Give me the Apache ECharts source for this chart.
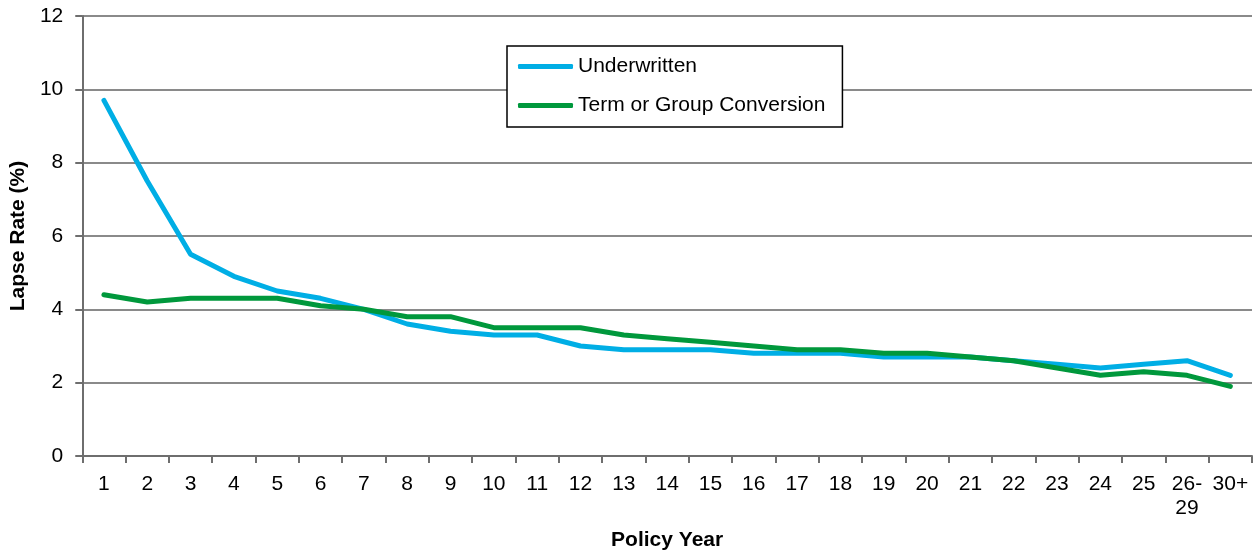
<!DOCTYPE html>
<html><head><meta charset="utf-8">
<script src="https://cdn.jsdelivr.net/npm/echarts@6/dist/echarts.min.js"></script>
<style>html,body{margin:0;padding:0;background:#fff}#c{width:1254px;height:556px}</style>
</head><body><div id="c"></div>
<script>
const categories = ['1','2','3','4','5','6','7','8','9','10','11','12','13','14','15','16','17','18','19','20','21','22','23','24','25','26-\n29','30+'];
const underwritten = [9.7,7.5,5.5,4.9,4.5,4.3,4.0,3.6,3.4,3.3,3.3,3.0,2.9,2.9,2.9,2.8,2.8,2.8,2.7,2.7,2.7,2.6,2.5,2.4,2.5,2.6,2.2];
const termConversion = [4.4,4.2,4.3,4.3,4.3,4.1,4.0,3.8,3.8,3.5,3.5,3.5,3.3,3.2,3.1,3.0,2.9,2.9,2.8,2.8,2.7,2.6,2.4,2.2,2.3,2.2,1.9];
const yTicks = {min:0, max:12, interval:2};

const font = 'Liberation Sans, Arial, sans-serif';
const chart = echarts.init(document.getElementById('c'));
chart.setOption({
  animation:false,
  textStyle:{fontFamily:font},
  grid:{left:82,right:2,top:16,bottom:96,containLabel:false},
  legend:{
    orient:'vertical', left:507, top:46,
    padding:[10,17,11,11], itemGap:18,
    itemWidth:55, itemHeight:5, icon:'roundRect',
    borderColor:'#000', borderWidth:1.5, backgroundColor:'#fff',
    textStyle:{fontFamily:font,fontSize:21,lineHeight:21,color:'#000'},
    data:['Underwritten','Term or Group Conversion']
  },
  xAxis:{
    type:'category', data:categories, boundaryGap:true,
    name:'Policy Year', nameLocation:'middle', nameGap:74,
    nameTextStyle:{fontFamily:font,fontSize:21,fontWeight:'bold',color:'#000'},
    axisLine:{lineStyle:{color:'#6e6e6e',width:2}},
    axisTick:{show:true,alignWithLabel:false,length:7,lineStyle:{color:'#6e6e6e',width:2}},
    axisLabel:{interval:0,fontSize:21,color:'#000',margin:16,lineHeight:24,fontFamily:font}
  },
  yAxis:{
    type:'value', min:yTicks.min, max:yTicks.max, interval:yTicks.interval,
    name:'Lapse Rate (%)', nameLocation:'middle', nameGap:49,
    nameTextStyle:{fontFamily:font,fontSize:21,fontWeight:'bold',color:'#000'},
    axisLine:{show:true,lineStyle:{color:'#6e6e6e',width:2}},
    axisTick:{show:true,length:7,lineStyle:{color:'#6e6e6e',width:2}},
    axisLabel:{fontSize:21,color:'#000',margin:19,fontFamily:font},
    splitLine:{show:true,lineStyle:{color:'#8a8a8a',width:2}}
  },
  series:[
    {name:'Underwritten',type:'line',data:underwritten,symbol:'none',
     lineStyle:{color:'#00AEE5',width:5,cap:'round',join:'round'},itemStyle:{color:'#00AEE5'}},
    {name:'Term or Group Conversion',type:'line',data:termConversion,symbol:'none',
     lineStyle:{color:'#00983C',width:5,cap:'round',join:'round'},itemStyle:{color:'#00983C'}}
  ]
});
</script></body></html>
